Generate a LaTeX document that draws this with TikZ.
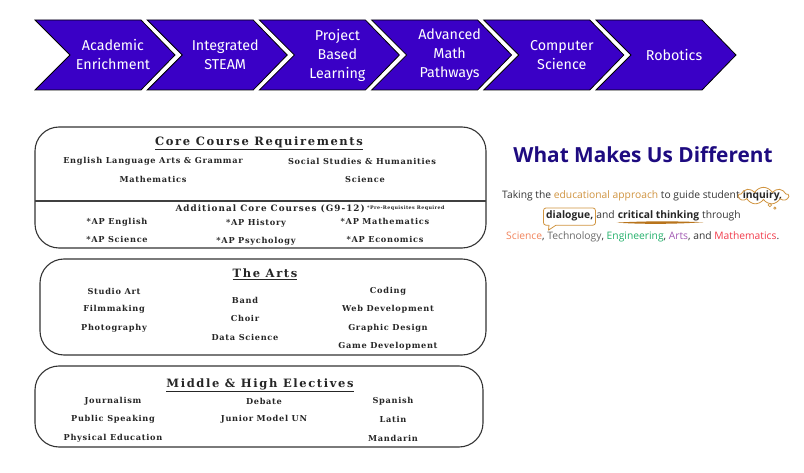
\documentclass[tikz,border=0pt]{standalone}
\usepackage{fontspec}
\usetikzlibrary{shapes.symbols,calc}
\newfontfamily\chevfont{Fira Sans}
\newfontfamily\crs{DejaVu Serif}[LetterSpace=8.5]
\newfontfamily\crsw{DejaVu Serif}[LetterSpace=12]
\newfontfamily\crst{DejaVu Serif}[LetterSpace=14]
\newfontfamily\parafont{Open Sans}
\definecolor{chevblue}{HTML}{3A00C6}
\definecolor{navy}{HTML}{1E0B80}
\definecolor{tanc}{HTML}{D09440}
\definecolor{brushc}{HTML}{B8741C}
\definecolor{txtg}{HTML}{363636}
\definecolor{sciC}{HTML}{F2845C}
\definecolor{techC}{HTML}{6A6A6A}
\definecolor{engC}{HTML}{22B06A}
\definecolor{artC}{HTML}{A25AB4}
\definecolor{mathC}{HTML}{F23B4B}
\tikzset{
  chev/.style={fill=chevblue, draw=black, line width=0.8pt, line join=miter},
  chevtxt/.style={text=white, font=\chevfont\fontsize{14.3}{19}\selectfont, align=center, inner sep=0pt},
  panel/.style={draw=black!80, line width=1.1pt, rounded corners=24pt},
  ttl/.style={font=\crst\bfseries\fontsize{11.5}{13}\selectfont, text=black!85, inner sep=0pt},
  itm/.style={font=\crs\bfseries\fontsize{8.2}{10}\selectfont, text=black!85, inner sep=0pt},
  itmw/.style={font=\crsw\bfseries\fontsize{8.8}{10}\selectfont, text=black!85, inner sep=0pt},
  tiny/.style={font=\crs\bfseries\fontsize{4.8}{6}\selectfont, text=black!85, inner sep=0pt},
  para/.style={font=\parafont\fontsize{10.3}{12}\selectfont, text=txtg, inner sep=0pt, anchor=base west},
  parab/.style={para, font=\parafont\bfseries\fontsize{10.3}{12}\selectfont, text=black!85},
  bubble/.style={draw=tanc, line width=0.8pt},
}
\begin{document}
\begin{tikzpicture}[x=1pt,y=-1pt]
\useasboundingbox (0,0) rectangle (804,473);
\fill[white] (0,0) rectangle (804,473);

% chevrons
\foreach \i/\t in {0/{Academic\\Enrichment},1/{Integrated\\STEAM},2/{Project\\Based\\Learning},3/{Advanced\\Math\\Pathways},4/{Computer\\Science},5/{Robotics}}{
  \pgfmathsetmacro\L{35+112.2*\i}
  \draw[chev] (\L,20) -- ++(106,0) -- ++(34,35) -- ++(-34,35) -- ++(-106,0) -- ++(35,-35) -- cycle;
  \node[chevtxt] (c\i) at (\L+78,55) {\t};
}

% panel 1
\draw[panel] (35,127) rectangle (486,248);
\draw[black!75, line width=1.1pt] (35,201) -- (486,201);
\node[ttl] (t1) at (259,143) {\underline{Core Course Requirements}};
\node[itm] (ela) at (153,161) {English Language Arts \& Grammar};
\node[itm] (ssh) at (362,161) {Social Studies \& Humanities};
\node[itm] (mat) at (153,179) {Mathematics};
\node[itm] (sci) at (365,179) {Science};
\node[itmw, anchor=east] (add) at (365,209) {Additional Core Courses (G9-12)};
\node[tiny, anchor=west] (pre) at (367,208) {*Pre-Requisites Required};
\node[itm] (ape) at (117,222) {*AP English};
\node[itm] (aph) at (256,223) {*AP History};
\node[itm] (apm) at (385,221) {*AP Mathematics};
\node[itm] (aps) at (117,239) {*AP Science};
\node[itm] (app) at (256,241) {*AP Psychology};
\node[itm] (apc) at (385,239) {*AP Economics};

% panel 2
\draw[panel] (40,259) rectangle (486,355);
\node[ttl] (t2) at (265,274) {\underline{The Arts}};
\node[itm] (sa) at (114,291) {Studio Art};
\node[itm] (fm) at (114,309) {Filmmaking};
\node[itm] (ph) at (114,328) {Photography};
\node[itm] (bd) at (245,300) {Band};
\node[itm] (ch) at (245,318) {Choir};
\node[itm] (ds) at (245,337) {Data Science};
\node[itm] (cd) at (388,291) {Coding};
\node[itm] (wd) at (388,309) {Web Development};
\node[itm] (gd) at (388,328) {Graphic Design};
\node[itm] (gm) at (388,346) {Game Development};

% panel 3
\draw[panel] (35,366) rectangle (483,447);
\node[ttl] (t3) at (260,385) {\underline{Middle \& High Electives}};
\node[itm] (jo) at (113,401) {Journalism};
\node[itm] (ps) at (113,419) {Public Speaking};
\node[itm] (pe) at (113,438) {Physical Education};
\node[itm] (db) at (264,401) {Debate};
\node[itm] (jm) at (264,419) {Junior Model UN};
\node[itm] (sp) at (393,401) {Spanish};
\node[itm] (la) at (393,419) {Latin};
\node[itm] (md) at (393,438) {Mandarin};

% right side
\node[font=\parafont\bfseries\fontsize{20.8}{24}\selectfont, text=navy, inner sep=0pt] (wm) at (643,155) {What Makes Us Different};

\node[para] (l1) at (502,198.5) {Taking the \textcolor{tanc}{educational approach} to guide student\ \mbox{}};
\node[parab] (inq) at (l1.base east) {inquiry,};
\node[cloud, draw=tanc, line width=0.8pt, cloud puffs=9, cloud puff arc=120, aspect=3, minimum width=50pt, minimum height=17pt, inner sep=0pt] (cl) at ($(inq.center)+(1,0)$) {};
\node[circle, draw=tanc, line width=0.7pt, minimum size=3.4pt, inner sep=0pt] (b1) at ($(cl.south east)+(-9,4)$) {};
\node[circle, draw=tanc, line width=0.7pt, minimum size=2.3pt, inner sep=0pt] (b2) at ($(b1)+(5,3)$) {};

\node[parab] (dia) at (546,219) {dialogue,};
\node[para] (l2a) at (dia.base east) {\ and\ \mbox{}};
\node[parab] (crit) at (l2a.base east) {critical thinking};
\node[para] (l2b) at (crit.base east) {\ through};
\draw[bubble, rounded corners=2.5pt] ($(dia.south west)+(10,3.5)$) -- ($(dia.south east)+(2,3.5)$) -- ($(dia.north east)+(2,-3)$) -- ($(dia.north west)+(-2.5,-3)$) -- ($(dia.south west)+(-2.5,3.5)$) -- ($(dia.south west)+(3,3.5)$);
\draw[bubble, line join=round] ($(dia.south west)+(3,3.5)$) -- ($(dia.south west)+(2.5,8.5)$) -- ($(dia.south west)+(10,3.5)$);
\fill[brushc] ($(crit.base west)+(-1,3.6)$) .. controls ($(crit.base west)!0.4!(crit.base east)+(0,1.8)$) and ($(crit.base west)!0.7!(crit.base east)+(0,2.2)$) .. ($(crit.base east)+(4,3.2)$) .. controls ($(crit.base west)!0.7!(crit.base east)+(0,5.2)$) and ($(crit.base west)!0.3!(crit.base east)+(0,5.4)$) .. cycle;

\node[para] (l3) at (506,240) {\textcolor{sciC}{Science}, \textcolor{techC}{Technology}, \textcolor{engC}{Engineering}, \textcolor{artC}{Arts}, and \textcolor{mathC}{Mathematics}.};
\end{tikzpicture}
\end{document}
